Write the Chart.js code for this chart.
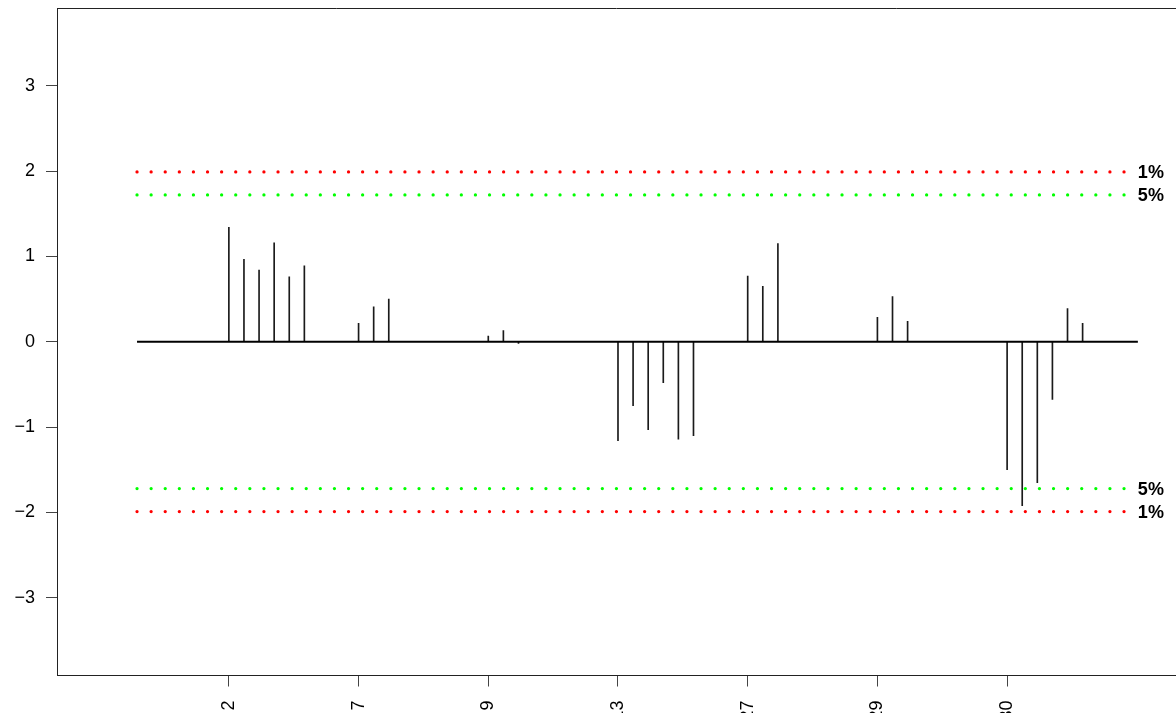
<!DOCTYPE html>
<html><head><meta charset="utf-8">
<script src="https://cdn.jsdelivr.net/npm/chart.js@4/dist/chart.umd.min.js"></script>
<style>html,body{margin:0;padding:0;background:#fff;overflow:hidden}#wrap{width:1176px;height:713px}</style>
</head><body><div id="wrap"><canvas id="c" width="1176" height="713"></canvas></div>
<script>
// Group labels along the x axis and spike values per group
const groupLabels = ['2', '7', '9', '13', '27', '29', '30'];
const group2  = [1.34, 0.965, 0.84, 1.16, 0.76, 0.89];
const group7  = [0.215, 0.41, 0.5];
const group9  = [0.067, 0.13, -0.02];
const group13 = [-1.16, -0.75, -1.03, -0.48, -1.14, -1.10];
const group27 = [0.77, 0.65, 1.15];
const group29 = [0.285, 0.53, 0.24];
const group30 = [-1.50, -1.92, -1.65, -0.675, 0.39, 0.215];
const yTicks = [-3, -2, -1, 0, 1, 2, 3];
// significance thresholds
const limit1 = 1.99;
const limit5 = 1.72;

const groups = [group2, group7, group9, group13, group27, group29, group30];
const slotStep = 0.1164;          // spacing of spikes within a group (axis units)
const lineStart = 0.292, lineEnd = 8.008;

const spikes = [];
groups.forEach((vals, gi) => {
  vals.forEach((v, k) => spikes.push({ x: gi + 1 + k * slotStep, y: v }));
});

const hline = (y) => [{ x: lineStart, y }, { x: lineEnd, y }];
const dotted = (y, color) => ({
  type: 'line', data: hline(y), borderColor: color, borderWidth: 3.3,
  borderDash: [0, 14.1], borderCapStyle: 'round', pointRadius: 0, order: 3
});

const FONT = '"Liberation Sans", Arial, sans-serif';

const framePlugin = {
  id: 'frameAndLabels',
  afterDatasetsDraw(chart) {
    const { ctx, chartArea, scales } = chart;
    ctx.save();
    // top edge of the plot box
    ctx.strokeStyle = '#222';
    ctx.lineWidth = 1;
    ctx.beginPath();
    ctx.moveTo(chartArea.left, Math.round(chartArea.top) + 0.5);
    ctx.lineTo(chartArea.right, Math.round(chartArea.top) + 0.5);
    ctx.stroke();
    // threshold labels
    ctx.fillStyle = '#000';
    ctx.font = 'bold 18px ' + FONT;
    ctx.textAlign = 'left';
    ctx.textBaseline = 'middle';
    const x = scales.x.getPixelForValue(lineEnd);
    [[limit1, '1%'], [limit5, '5%'], [-limit5, '5%'], [-limit1, '1%']].forEach(([v, t]) => {
      ctx.fillText(t, x, scales.y.getPixelForValue(v) + 1);
    });
    ctx.restore();
  }
};

new Chart(document.getElementById('c'), {
  type: 'bar',
  data: {
    datasets: [
      {
        type: 'bar', data: spikes, backgroundColor: '#1a1a1a', borderWidth: 0,
        barThickness: 1, grouped: false, order: 2
      },
      {
        type: 'line', data: hline(0), borderColor: '#000', borderWidth: 2.2,
        pointRadius: 0, order: 1
      },
      dotted(limit1, '#ff0000'),
      dotted(limit5, '#00ff00'),
      dotted(-limit5, '#00ff00'),
      dotted(-limit1, '#ff0000')
    ]
  },
  options: {
    responsive: false,
    animation: false,
    devicePixelRatio: 1,
    layout: { padding: { top: 8, right: 0, left: 0, bottom: 0 } },
    plugins: { legend: { display: false }, tooltip: { enabled: false } },
    scales: {
      x: {
        type: 'linear', min: -0.325, max: 8.302, offset: false,
        grid: { offset: false, drawOnChartArea: false, drawTicks: true, tickLength: 11, color: '#444', lineWidth: 1 },
        border: { display: true, color: '#222', width: 1 },
        afterBuildTicks: (s) => { s.ticks = groupLabels.map((_, i) => ({ value: i + 1 })); },
        afterFit: (s) => { s.height = 37.5; s.paddingLeft = 0; s.paddingRight = 0; },
        ticks: {
          autoSkip: false, minRotation: 90, maxRotation: 90, padding: 14,
          color: '#000', font: { family: FONT, size: 18 },
          callback: (v) => groupLabels[Math.round(v) - 1] ?? ''
        }
      },
      y: {
        type: 'linear', min: -3.91, max: 3.91,
        grid: { drawOnChartArea: false, drawTicks: true, tickLength: 11, color: '#444', lineWidth: 1 },
        border: { display: true, color: '#222', width: 1 },
        afterBuildTicks: (s) => { s.ticks = yTicks.map(v => ({ value: v })); },
        afterFit: (s) => { s.width = 57; s.paddingTop = 0; s.paddingBottom = 0; },
        ticks: {
          padding: 11, color: '#000', font: { family: FONT, size: 18 },
          callback: (v) => (v < 0 ? '\u2212' + Math.abs(v) : String(v))
        }
      }
    }
  },
  plugins: [framePlugin]
});
</script>
</body></html>
